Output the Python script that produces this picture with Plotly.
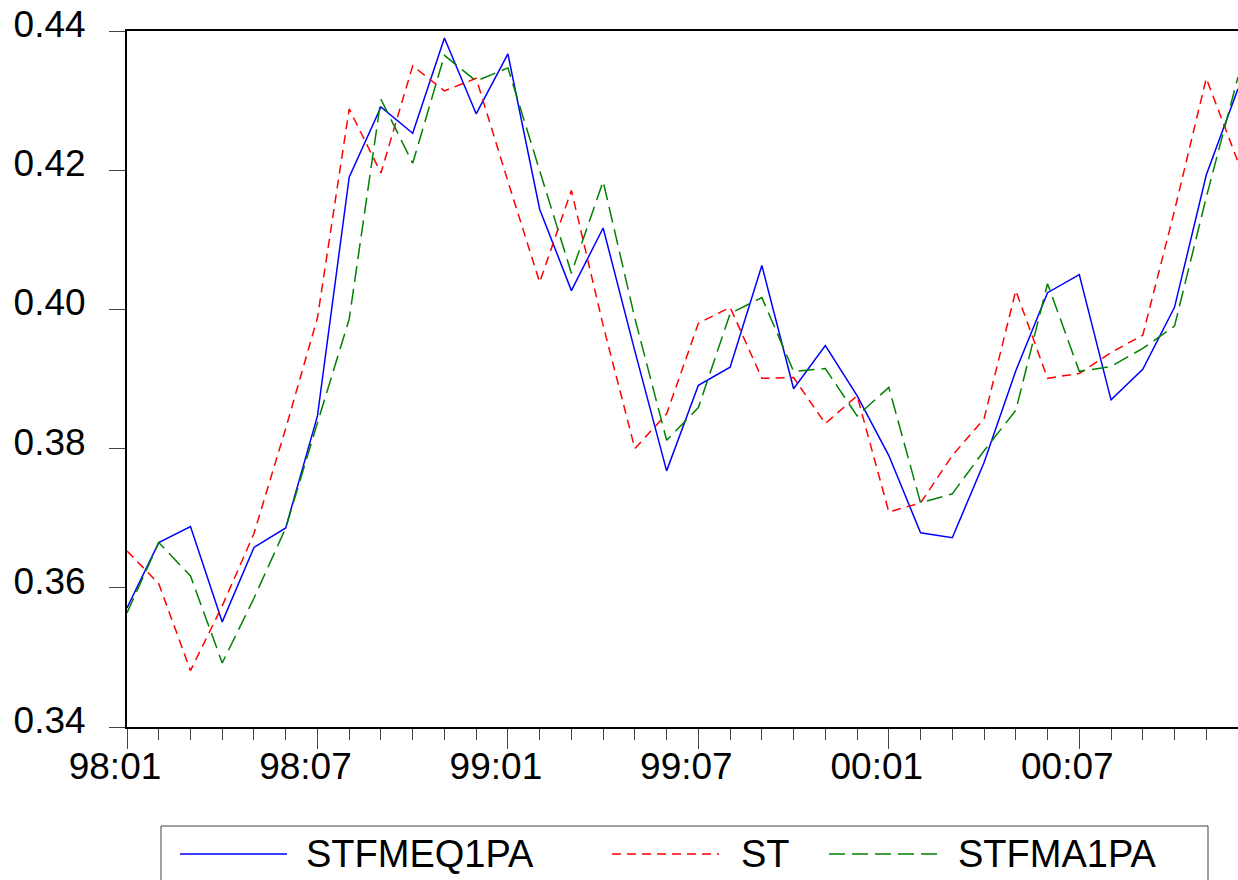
import plotly.graph_objects as go

# Monthly periods 1998:01 - 2000:12
periods = [f"{y:02d}:{m:02d}" for y in (98, 99, 0) for m in range(1, 13)]

series_names = ["STFMEQ1PA", "ST", "STFMA1PA"]

stfmeq1pa = [0.3571, 0.3665, 0.3688, 0.3551, 0.3658, 0.3686, 0.3847, 0.4190,
             0.4291, 0.4253, 0.4390, 0.4281, 0.4367, 0.4144, 0.4027, 0.4117,
             0.3940, 0.3768, 0.3891, 0.3917, 0.4063, 0.3886, 0.3948, 0.3876,
             0.3790, 0.3679, 0.3672, 0.3780, 0.3912, 0.4024, 0.4050, 0.3870,
             0.3914, 0.4003, 0.4193, 0.4317]

st = [0.3653, 0.3606, 0.3481, 0.3574, 0.3678, 0.3829, 0.3988, 0.4288,
      0.4196, 0.4350, 0.4314, 0.4332, 0.4184, 0.4039, 0.4171, 0.3977,
      0.3800, 0.3850, 0.3980, 0.4003, 0.3901, 0.3902, 0.3836, 0.3876,
      0.3709, 0.3722, 0.3790, 0.3843, 0.4027, 0.3901, 0.3908, 0.3938,
      0.3963, 0.4142, 0.4332, 0.4212]

stfma1pa = [0.3564, 0.3665, 0.3617, 0.3492, 0.3585, 0.3686, 0.3837, 0.3986,
            0.4302, 0.4210, 0.4365, 0.4328, 0.4347, 0.4200, 0.4052, 0.4184,
            0.3987, 0.3812, 0.3859, 0.3994, 0.4017, 0.3911, 0.3915, 0.3847,
            0.3888, 0.3722, 0.3735, 0.3797, 0.3855, 0.4037, 0.3911, 0.3918,
            0.3944, 0.3976, 0.4161, 0.4334]

y_ticks = [0.34, 0.36, 0.38, 0.40, 0.42, 0.44]
x_label_every = 6

colors = ["#0000FF", "#FF0000", "#008000"]
dashes = ["solid", "9px,6px", "16px,7px"]

FONT = "Liberation Sans, Arial, Helvetica, sans-serif"
W, H = 1238, 880
L, R, T, B = 127, 0, 31, 153

idx = list(range(len(periods)))

fig = go.Figure()
for name, vals, c, d in zip(series_names, [stfmeq1pa, st, stfma1pa], colors, dashes):
    fig.add_trace(go.Scatter(x=idx, y=vals, mode="lines", name=name,
                             line=dict(color=c, width=1.5, dash=d),
                             showlegend=False))

fig.update_layout(
    width=W, height=H,
    margin=dict(l=L, r=R, t=T, b=B, pad=0),
    plot_bgcolor="white", paper_bgcolor="white",
    font=dict(family=FONT, size=37, color="black"),
    showlegend=False,
)

major = idx[::x_label_every]
fig.update_xaxes(
    range=[0, len(periods) - 1],
    showgrid=False, zeroline=False, automargin=False,
    showline=True, linecolor="black", linewidth=2, mirror=True,
    ticks="outside", ticklen=20, tickwidth=1, tickcolor="#444",
    tickmode="array", tickvals=major, ticktext=[periods[i] for i in major],
    tickfont=dict(family=FONT, size=37, color="black"),
    ticklabelshift=-12, ticklabelstandoff=-14,
    minor=dict(tickmode="array", tickvals=idx, ticks="outside",
               ticklen=11, tickwidth=1, tickcolor="#444"),
)
fig.update_yaxes(
    range=[y_ticks[0], y_ticks[-1]],
    showgrid=False, zeroline=False, automargin=False,
    showline=True, linecolor="black", linewidth=2, mirror=False,
    ticks="outside", ticklen=16, tickwidth=1, tickcolor="#444",
    tickmode="array", tickvals=y_ticks, ticktext=[f"{v:.2f}" for v in y_ticks],
    tickfont=dict(family=FONT, size=37, color="black"),
    ticklabelstandoff=16, ticklabelshift=-7,
)

# Legend box below the plot, drawn in pixel geometry converted to paper units
pw, ph = W - L - R, H - T - B


def px(xp):
    return (xp - L) / pw


def py(yp):
    return (H - B - yp) / ph


shapes = [dict(type="rect", xref="paper", yref="paper",
               x0=px(161), x1=px(1208), y0=py(826), y1=py(905),
               line=dict(color="#404040", width=1), fillcolor="rgba(0,0,0,0)")]
annotations = []
legend_y = 854
sample_spans = [(180, 287), (612, 719), (829, 937)]
text_x = [304, 739, 956]
for name, c, d, (a, b), tx in zip(series_names, colors, dashes, sample_spans, text_x):
    shapes.append(dict(type="line", xref="paper", yref="paper",
                       x0=px(a), x1=px(b), y0=py(legend_y), y1=py(legend_y),
                       line=dict(color=c, width=1.5, dash=d)))
    annotations.append(dict(xref="paper", yref="paper", x=px(tx), y=py(legend_y),
                            text=name, showarrow=False, xanchor="left", yanchor="middle",
                            font=dict(family=FONT, size=38, color="black")))

fig.update_layout(shapes=shapes, annotations=annotations)

fig.write_html("out.html")
